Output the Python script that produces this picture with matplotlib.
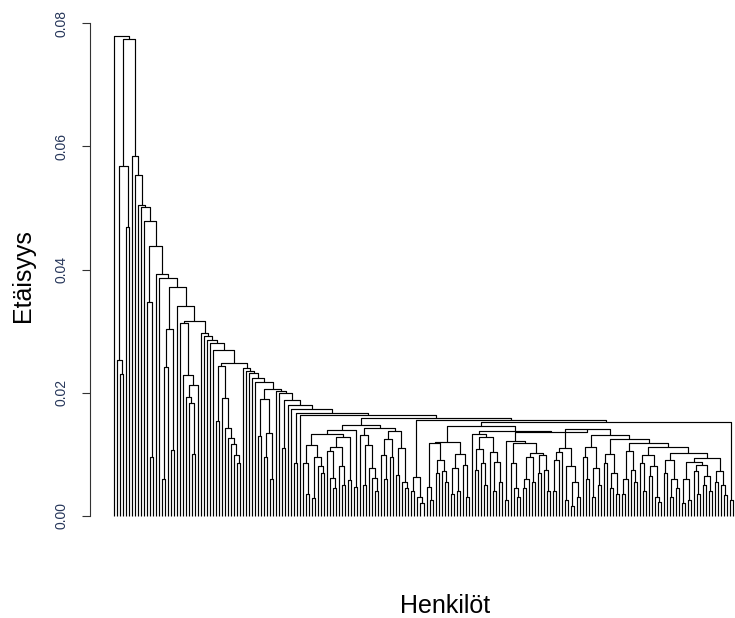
import matplotlib
matplotlib.use("Agg")
import matplotlib.pyplot as plt
from matplotlib.collections import LineCollection

# Merge heights are written in units of 1e-4; "x" is a single person (leaf).
HEIGHT_UNIT = 1e-4

# Left part of the tree: a chain of merges, each joining a small group
# (or a single person) to everything to its right.
spine_heights = [780, 774, 584, 553, 505, 501, 478, 438, 392, 387, 372, 341,
                 317, 297, 292, 285, 280, 270, 248, 240, 235, 232, 224, 217,
                 206, 202, 199, 188, 180, 173, 167, 163]
spine_sides = [
    "x",
    "((x,(x,x)231)253,(x,x)469)568",
    "x", "x", "x", "x", "x",
    "(x,(x,x)95)348",
    "x", "x",
    "(((x,x)60,x)242,(x,x)107)303",
    "x",
    "(x,(x,((x,(x,(x,x)100)183)193,x)213)228)313",
    "x", "x", "x", "x", "x",
    "((x,x)154,(x,(x,(x,(x,(x,(x,x)85)98)117)126)142)191)243",
    "x", "x", "x", "x", "x",
    "((x,x)130,((x,x)95,(x,x)60)135)190",
    "x", "x",
    "(x,x)110",
    "x", "x",
    "(x,x)85",
    "x",
]

# Right part of the tree: the large group of close persons.
group_g1a = ("((((x,(x,x)35)85,((x,x)28,(x,(x,x)70)80)95)115,"
             "(((x,(x,(x,x)45)62)105,(x,(x,x)50)80)112,(x,x)58)128)133,(x,x)46)140")
group_g1b = ("((x,((x,x)50,(x,(x,(x,x)40)62)77)115)131,"
             "(((x,(x,x)60)98,(x,x)95)125,((x,x)66,(x,(x,x)45)55)110)138)142")
group_small = "((x,x)40,(x,(x,x)20)30)63"
group_w1 = ("(((x,(x,x)25)47,((x,x)70,(x,(x,x)55)72)90)118,"
            "(((x,x)35,(x,x)40)78,(x,(x,x)30)82)100)120")
group_w2l = "(x,(((x,x)75,(x,(x,x)50)85)108,(x,((x,x)40,(x,x)55)88)104)128)133"
group_r1 = ("((x,x)26,((x,(x,(x,x)30)45)85,((((x,x)45,x)60,(x,x)55)96,"
            "((x,x)70,(x,(x,x)40)75)98)102)118)122")
# Descending run on the far right: (group, merge height) pairs.
run_groups = [
    "((((x,x)40,x)90,x)103,((x,x)25,((x,x)15,(x,x)30)55)80)110",
    "((x,(x,x)60)95,((x,x)30,(x,x)50)78)112",
    "((x,x)85,((x,x)45,(x,x)35)70)100",
    "(((x,x)35,x)60,(x,(x,x)55)75)105",
    "((x,(x,x)40)85,((x,x)65,(x,(x,x)22)30)80)98",
    "((x,x)70,((x,x)30,(x,x)45)60)90",
    "(((x,x)20,(x,x)25)60,((x,(x,x)35)72,((x,x)50,(x,x)40)65)83)88",
]
run_heights = [141, 131, 124, 118, 111, 102, 94]
run_last = "((x,x)55,(x,(x,x)34)50)73"
group_z = "(x,x)25"


def join(a, b, h):
    return "(" + a + "," + b + ")" + str(h)


def parse(text):
    text = text.replace(" ", "")
    pos = 0

    def node():
        nonlocal pos
        if text[pos] == "x":
            pos += 1
            return None
        pos += 1  # "("
        left = node()
        pos += 1  # ","
        right = node()
        pos += 1  # ")"
        start = pos
        while pos < len(text) and text[pos].isdigit():
            pos += 1
        return (left, right, int(text[start:pos]) * HEIGHT_UNIT)

    return node()


# Assemble the right-hand group
run = run_last
for grp, h in zip(reversed(run_groups), reversed(run_heights)):
    run = join(grp, run, h)
w2 = join(group_w2l, join(group_r1, run, 136), 138)
w = join(group_w1, w2, 145)
v = join(w, group_z, 153)
v2 = join(group_small, v, 155)
tail = join(join(group_g1a, group_g1b, 147), v2, 158)

tree = parse(tail)
for h, side in zip(reversed(spine_heights), reversed(spine_sides)):
    tree = (parse(side), tree, h * HEIGHT_UNIT)

segments = []
leaf_counter = [0]


def layout(node):
    if node is None:
        x = leaf_counter[0]
        leaf_counter[0] += 1
        return x, 0.0
    left, right, h = node
    xl, hl = layout(left)
    xr, hr = layout(right)
    segments.append([(xl, hl), (xl, h), (xr, h), (xr, hr)])
    return (xl + xr) / 2.0, h


layout(tree)
n_leaves = leaf_counter[0]

plt.rcParams["font.family"] = ["Liberation Sans", "DejaVu Sans"]

W_PX, H_PX = 735, 618
fig = plt.figure(figsize=(W_PX / 100, H_PX / 100), dpi=100)
left_px, right_px = 114, 733
top_px, bottom_px = 23.3, 515.7
ax = fig.add_axes([left_px / W_PX, 1 - bottom_px / H_PX,
                   (right_px - left_px) / W_PX, (bottom_px - top_px) / H_PX])

lc = LineCollection(segments, colors="black", linewidths=0.85, clip_on=False)
ax.add_collection(lc)
ax.set_xlim(0, n_leaves - 1)
ax.set_ylim(0, 0.08)

for side in ("top", "right", "bottom"):
    ax.spines[side].set_visible(False)
ax.spines["left"].set_position(("outward", 24 * 0.72))
ax.spines["left"].set_bounds(0, 0.08)
ax.spines["left"].set_linewidth(0.8)
ax.spines["left"].set_color("#333333")
ax.set_xticks([])
ax.set_yticks([0.0, 0.02, 0.04, 0.06, 0.08])
ax.set_yticklabels(["0.00", "0.02", "0.04", "0.06", "0.08"],
                   rotation=90, va="center", fontsize=10, color="#26365a")
ax.tick_params(axis="y", length=8 * 0.72, width=0.8, color="#333333", pad=10)

fig.text(23 / W_PX, 1 - 276 / H_PX, "Etäisyys", rotation=90,
         ha="center", va="center", fontsize=18)
fig.text(445 / W_PX, 1 - 606 / H_PX, "Henkilöt",
         ha="center", va="center", fontsize=18)

fig.savefig("out.png", dpi=100)
